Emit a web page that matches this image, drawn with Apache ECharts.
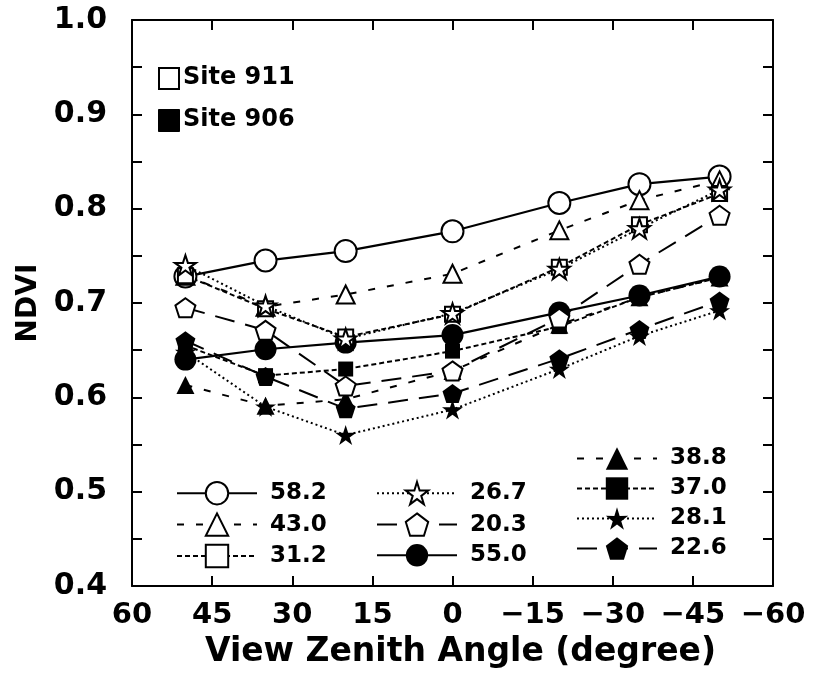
<!DOCTYPE html>
<html>
<head>
<meta charset="utf-8">
<script src="https://cdn.jsdelivr.net/npm/echarts@6/dist/echarts.min.js"></script>
<style>
html,body{margin:0;padding:0;background:#fff;}
#chart{width:814px;height:675px;}
</style>
</head>
<body>
<div id="chart"></div>
<script>
// View zenith angles (degrees)
var angles = [50, 35, 20, 0, -20, -35, -50];
// Site 911 (open symbols)
var s582 = [0.728, 0.745, 0.755, 0.776, 0.806, 0.826, 0.834];
var s430 = [0.729, 0.696, 0.709, 0.731, 0.777, 0.809, 0.830];
var s312 = [0.729, 0.694, 0.664, 0.688, 0.738, 0.783, 0.816];
var s267 = [0.740, 0.697, 0.662, 0.689, 0.736, 0.779, 0.820];
var s203 = [0.695, 0.671, 0.612, 0.628, 0.684, 0.741, 0.793];
// Site 906 (filled symbols)
var s550 = [0.640, 0.651, 0.658, 0.666, 0.690, 0.708, 0.728];
var s388 = [0.613, 0.591, 0.598, 0.628, 0.677, 0.706, 0.727];
var s370 = [0.655, 0.623, 0.630, 0.649, 0.675, 0.706, 0.727];
var s281 = [0.648, 0.590, 0.560, 0.587, 0.630, 0.665, 0.692];
var s226 = [0.660, 0.622, 0.588, 0.604, 0.641, 0.672, 0.702];
var seriesNames = ['58.2','43.0','31.2','26.7','20.3','55.0','38.8','37.0','28.1','22.6'];
var xTicks = [60, 45, 30, 15, 0, -15, -30, -45, -60];
var yTicks = [0.4, 0.5, 0.6, 0.7, 0.8, 0.9, 1.0];

var STAR = 'path://M50 0 L61.17 34.63 L97.55 34.55 L68.07 55.87 L79.39 90.45 L50 69 L20.61 90.45 L31.93 55.87 L2.45 34.55 L38.83 34.63 Z';
var PENT = 'path://M50 0 L97.55 34.55 L79.39 90.45 L20.61 90.45 L2.45 34.55 Z';

var FONT = 'DejaVu Sans';
var DASHDOT = [7, 12];
var SHORTDASH = [5, 3];
var DOT = [2, 3];
var LONGDASH = [20, 11];

function pairs(vals){ return angles.map(function(a,i){ return [a, vals[i]]; }); }

function mk(name, vals, symbol, size, open, dash){
  return {
    name: name, type: 'line', data: pairs(vals),
    symbol: symbol, symbolSize: size, symbolKeepAspect: true,
    showAllSymbol: true,
    lineStyle: { color: '#000', width: dash === 'solid' ? 2.2 : 2, type: dash },
    itemStyle: { color: open ? '#fff' : '#000', borderColor: '#000', borderWidth: open ? 2 : 0, opacity: 1 },
    emphasis: { disabled: true },
    animation: false, z: open ? 3 : 2
  };
}

var series = [
  mk('58.2', s582, 'circle', 22, true, 'solid'),
  mk('43.0', s430, 'triangle', 18, true, DASHDOT),
  mk('31.2', s312, 'rect', 15, true, SHORTDASH),
  mk('26.7', s267, STAR, 21, true, DOT),
  mk('20.3', s203, PENT, 20, true, LONGDASH),
  mk('55.0', s550, 'circle', 22, false, 'solid'),
  mk('38.8', s388, 'triangle', 18, false, DASHDOT),
  mk('37.0', s370, 'rect', 15, false, SHORTDASH),
  mk('28.1', s281, STAR, 21, false, DOT),
  mk('22.6', s226, PENT, 20, false, LONGDASH)
];

var legendCommon = {
  orient: 'vertical', itemWidth: 80, itemHeight: 28, itemGap: 7, padding: 0,
  textStyle: { fontFamily: FONT, fontWeight: 'bold', fontSize: 23, color: '#000', padding: [0,0,0,8] },
  inactiveColor: '#000', selectedMode: false
};

var axLine = { show: true, onZero: false, lineStyle: { color: '#000', width: 2 } };
var tick = { show: true, inside: true, length: 10, lineStyle: { color: '#000', width: 2 } };
var minor = { show: true, splitNumber: 2, length: 10, lineStyle: { color: '#000', width: 2 } };

var option = {
  backgroundColor: '#fff',
  animation: false,
  grid: { left: 132, right: 41, top: 20, bottom: 89, containLabel: false },
  xAxis: [{
    type: 'value', min: -60, max: 60, interval: 15, inverse: true,
    axisLine: axLine, splitLine: { show: false }, axisTick: tick,
    axisLabel: { show: true, margin: 15, color: '#000', fontFamily: FONT, fontWeight: 'bold', fontSize: 29,
      formatter: function(v){ return xTicks.indexOf(v) >= 0 ? String(v).replace('-', '\u2212') : ''; } },
    name: 'View Zenith Angle (degree)', nameLocation: 'middle', nameGap: 50,
    nameTextStyle: { color: '#000', fontFamily: FONT, fontWeight: 'bold', fontSize: 33, padding: [0, 0, 0, 16] }
  }, {
    type: 'value', min: -60, max: 60, interval: 15, inverse: true, position: 'top',
    axisLine: axLine, splitLine: { show: false }, axisTick: tick,
    axisLabel: { show: false }
  }],
  yAxis: [{
    type: 'value', min: 0.4, max: 1.0, interval: 0.1,
    axisLine: axLine, splitLine: { show: false }, axisTick: tick,
    minorTick: minor, minorSplitLine: { show: false },
    axisLabel: { show: true, margin: 25, color: '#000', fontFamily: FONT, fontWeight: 'bold', fontSize: 30,
      formatter: function(v){ return v.toFixed(1); } },
    name: 'NDVI', nameLocation: 'middle', nameGap: 86, nameRotate: 90,
    nameTextStyle: { color: '#000', fontFamily: FONT, fontWeight: 'bold', fontSize: 28 }
  }, {
    type: 'value', min: 0.4, max: 1.0, interval: 0.1, position: 'right',
    axisLine: axLine, splitLine: { show: false }, axisTick: tick,
    minorTick: minor, minorSplitLine: { show: false },
    axisLabel: { show: false }
  }],
  legend: [
    Object.assign({}, legendCommon, { left: 176, top: 481, data: ['58.2','43.0','31.2'] }),
    Object.assign({}, legendCommon, { left: 376, top: 481, data: ['26.7','20.3','55.0'] }),
    Object.assign({}, legendCommon, { left: 576, top: 447, data: ['38.8','37.0','28.1','22.6'] })
  ],
  graphic: [
    { type: 'rect', left: 158, top: 67, shape: { width: 20, height: 21 }, style: { fill: '#fff', stroke: '#000', lineWidth: 2 } },
    { type: 'text', left: 183, top: 66, style: { text: 'Site 911', fill: '#000', font: 'bold 24px "DejaVu Sans"' } },
    { type: 'rect', left: 158, top: 109, shape: { width: 21, height: 22 }, style: { fill: '#000', stroke: '#000', lineWidth: 1 } },
    { type: 'text', left: 183, top: 108, style: { text: 'Site 906', fill: '#000', font: 'bold 24px "DejaVu Sans"' } }
  ],
  series: series
};

var chart = echarts.init(document.getElementById('chart'), null, { renderer: 'canvas' });
chart.setOption(option);
</script>
</body>
</html>
